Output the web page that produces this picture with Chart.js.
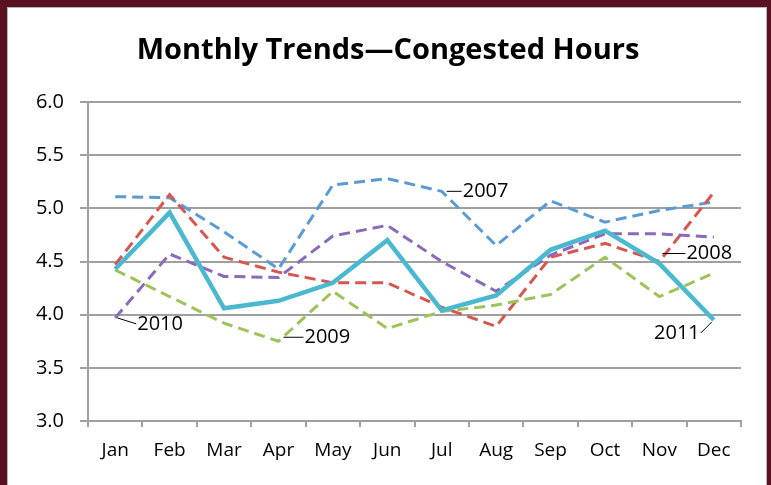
<!DOCTYPE html>
<html>
<head>
<meta charset="utf-8">
<script src="https://cdn.jsdelivr.net/npm/chart.js@4.4.1/dist/chart.umd.min.js"></script>
<style>
  html, body { margin: 0; padding: 0; width: 771px; height: 485px; overflow: hidden; background: #5a1222; }
  #box { position: absolute; left: 7px; top: 7px; width: 758px; height: 478px; background: #fff; border: 1px solid #b8b8b8; border-bottom: none; }
  #c { position: absolute; left: 0; top: 0; }
</style>
</head>
<body>
<div id="box"></div>
<canvas id="c" width="771" height="485"></canvas>
<script>
// dados
const meses = ['Jan', 'Feb', 'Mar', 'Apr', 'May', 'Jun', 'Jul', 'Aug', 'Sep', 'Oct', 'Nov', 'Dec'];
const y2007 = [5.11, 5.10, 4.78, 4.43, 5.22, 5.28, 5.16, 4.65, 5.07, 4.87, 4.98, 5.06];
const y2008 = [4.47, 5.13, 4.54, 4.40, 4.30, 4.30, 4.07, 3.89, 4.54, 4.67, 4.50, 5.15];
const y2009 = [4.42, 4.17, 3.92, 3.75, 4.22, 3.87, 4.03, 4.09, 4.19, 4.54, 4.17, 4.39];
const y2010 = [3.97, 4.57, 4.36, 4.35, 4.74, 4.84, 4.50, 4.22, 4.56, 4.76, 4.76, 4.73];
const y2011 = [4.43, 4.96, 4.06, 4.13, 4.30, 4.70, 4.04, 4.18, 4.61, 4.79, 4.48, 3.95];
const anos = ['2007', '2008', '2009', '2010', '2011'];
const titulo = 'Monthly Trends\u2014Congested Hours';

const fonte = '"Open Sans", sans-serif';
const cinza = '#a0a0a0';

// rotulos das series: [serie, ponto, inicio da linha dx/dy, fim da linha dx/dy, alinhamento]
const rotulos = [
    [0, 6, 5, 0, 20, 0, 'left'],
    [1, 10, 3, -8, 26, -8, 'left'],
    [2, 3, 5, -4, 25, -4, 'left'],
    [3, 0, 2, 0, 21, 6, 'left'],
    [4, 11, -2, 2, -13, 13, 'right']
];

// titulo desenhado a mao (centrado como no original, nao na area do grafico)
const pluginTitulo = {
    id: 'titulo',
    afterDraw(chart) {
        const ctx = chart.ctx;
        ctx.save();
        ctx.font = 'bold 29px ' + fonte;
        ctx.fillStyle = '#000';
        ctx.textAlign = 'center';
        ctx.textBaseline = 'middle';
        ctx.fillText(titulo, 388, 51);
        ctx.restore();
    }
};

const pluginRotulos = {
    id: 'rotulos',
    afterDatasetsDraw(chart) {
        const ctx = chart.ctx;
        ctx.save();
        ctx.font = '20px ' + fonte;
        ctx.fillStyle = '#000';
        ctx.strokeStyle = '#000';
        ctx.lineWidth = 1;
        ctx.textBaseline = 'middle';
        rotulos.forEach(r => {
            const p = chart.getDatasetMeta(r[0]).data[r[1]];
            const x1 = p.x + r[2], y1 = p.y + r[3];
            const x2 = p.x + r[4], y2 = p.y + r[5];
            ctx.beginPath();
            ctx.moveTo(x1, y1);
            ctx.lineTo(x2, y2);
            ctx.stroke();
            ctx.textAlign = r[6];
            ctx.fillText(anos[r[0]], x2 + (r[6] === 'left' ? 1 : -1), y2);
        });
        ctx.restore();
    }
};

function serie(label, data, cor, tracejado, largura, ordem) {
    return {
        label, data,
        borderColor: cor,
        borderWidth: largura,
        borderDash: tracejado,
        pointRadius: 0,
        tension: 0,
        fill: false,
        order: ordem
    };
}

new Chart(document.getElementById('c'), {
    type: 'line',
    data: {
        labels: meses,
        datasets: [
            serie('2007', y2007, '#5a9bd4', [11, 6], 3, 5),
            serie('2008', y2008, '#d6574f', [11, 6], 3, 4),
            serie('2009', y2009, '#9dc35a', [11, 6], 3, 3),
            serie('2010', y2010, '#8a6abb', [11, 6], 3, 2),
            serie('2011', y2011, '#4ab9d0', [], 4.5, 1)
        ]
    },
    options: {
        responsive: false,
        animation: false,
        layout: { padding: { left: 0, right: 30, top: 102, bottom: 0 } },
        plugins: {
            legend: { display: false },
            tooltip: { enabled: false },
            title: { display: false }
        },
        scales: {
            x: {
                offset: true,
                grid: { offset: true, drawOnChartArea: false, drawTicks: true, tickLength: 6, color: cinza, lineWidth: 2 },
                border: { display: true, color: cinza, width: 2 },
                ticks: { color: '#000', font: { family: fonte, size: 19 }, padding: 12, maxRotation: 0, autoSkip: false },
                afterFit(s) { s.height = 64; }
            },
            y: {
                min: 3, max: 6,
                ticks: {
                    stepSize: 0.5, color: '#000', padding: 16,
                    font: { family: fonte, size: 20 },
                    callback: v => v.toFixed(1)
                },
                grid: { color: cinza, lineWidth: 2, tickLength: 8 },
                border: { display: true, color: cinza, width: 2 },
                afterFit(s) { s.width = 88; }
            }
        }
    },
    plugins: [pluginRotulos, pluginTitulo]
});
</script>
</body>
</html>
